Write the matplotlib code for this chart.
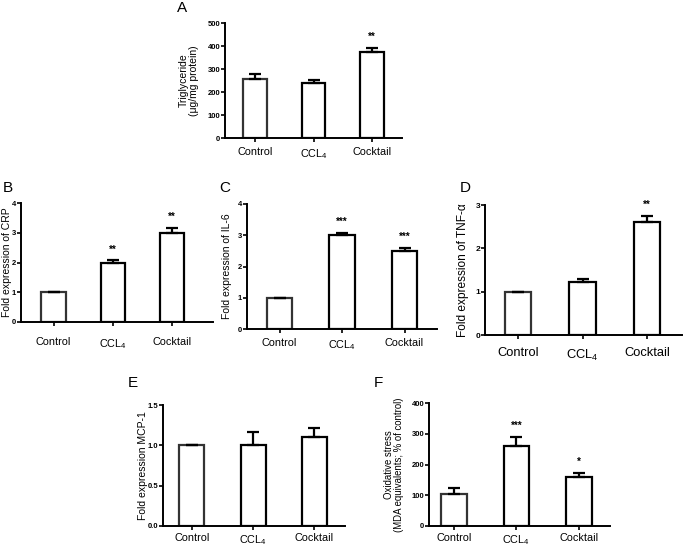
import matplotlib
matplotlib.use('Agg')
import matplotlib.pyplot as plt

plt.rcParams['font.family'] = ['Liberation Sans', 'DejaVu Sans']
plt.rcParams['mathtext.fontset'] = 'custom'
plt.rcParams['mathtext.rm'] = 'Liberation Sans'
plt.rcParams['mathtext.default'] = 'regular'

W, H = 685, 549

groups = ['Control', 'CCL$_4$', 'Cocktail']

# A - triglyceride
tg_mean = [258, 240, 375]
tg_err = [20, 12, 17]
tg_stars = ['', '', '**']
# B - CRP
crp_mean = [1.0, 2.0, 3.0]
crp_err = [0, 0.07, 0.17]
crp_stars = ['', '**', '**']
# C - IL-6
il6_mean = [1.0, 3.0, 2.5]
il6_err = [0, 0.07, 0.1]
il6_stars = ['', '***', '***']
# D - TNF-a
tnf_mean = [1.0, 1.22, 2.6]
tnf_err = [0, 0.07, 0.14]
tnf_stars = ['', '', '**']
# E - MCP-1
mcp_mean = [1.0, 1.0, 1.1]
mcp_err = [0, 0.16, 0.12]
mcp_stars = ['', '', '']
# F - oxidative stress
mda_mean = [103, 261, 158]
mda_err = [20, 29, 13]
mda_stars = ['', '***', '*']

fig = plt.figure(figsize=(W / 100, H / 100), dpi=100)


def px(x, y):
    return x / W, 1 - y / H


def panel(box, means, errs, stars, ymax, yticks, yfmt, ylabel, ylab_x, letter,
          letter_xy, xfs=7.8, yfs=5.5, lfs=7.5, xpad=3.6, xlim=(-0.52, 2.52)):
    # box = left, right, top, bottom in pixels
    l, r, t, b = box
    ax = fig.add_axes([l / W, 1 - b / H, (r - l) / W, (b - t) / H])
    x = range(len(means))
    ax.bar(x, means, width=0.41, color='white',
           edgecolor=['#333333', 'black', 'black'], linewidth=1.6, zorder=2)
    ax.errorbar(x, means, yerr=[[0] * len(errs), errs], fmt='none',
                ecolor='black', elinewidth=1.6, capsize=4.5, capthick=1.6, zorder=3)
    for i, s in enumerate(stars):
        if s:
            ax.text(i, means[i] + errs[i] + 0.05 * ymax, s, ha='center',
                    va='bottom', fontsize=7, fontweight='bold')
    ax.set_xlim(*xlim)
    ax.set_ylim(0, ymax)
    ax.set_xticks(list(x))
    ax.set_xticklabels(groups, fontsize=xfs)
    ax.set_yticks(yticks)
    ax.set_yticklabels([yfmt.format(v) for v in yticks], fontsize=yfs,
                       fontweight='bold')
    for sp in ['top', 'right']:
        ax.spines[sp].set_visible(False)
    for sp in ['left', 'bottom']:
        ax.spines[sp].set_linewidth(1.4)
    ax.tick_params(axis='y', length=3, width=1.2, pad=0.5)
    ax.tick_params(axis='x', length=3, width=1.2, pad=xpad)
    # y label placed by pixel centre
    fig.text(*px(ylab_x, (t + b) / 2), ylabel, fontsize=lfs, rotation=90,
             ha='center', va='center', multialignment='center', linespacing=1.1)
    fig.text(*px(*letter_xy), letter, fontsize=11, ha='center', va='center')
    return ax


panel((225, 402, 23, 138), tg_mean, tg_err, tg_stars, 500,
      [0, 100, 200, 300, 400, 500], '{:d}',
      'Triglyceride\n(\u03bcg/mg protein)', 189, 'A', (182, 8))

panel((21, 213, 203, 322), crp_mean, crp_err, crp_stars, 4,
      [0, 1, 2, 3, 4], '{:d}', 'Fold expression of CRP', 7, 'B', (8, 188),
      xpad=8, xlim=(-0.55, 2.69))

panel((247, 437, 204, 329), il6_mean, il6_err, il6_stars, 4,
      [0, 1, 2, 3, 4], '{:d}', 'Fold expression of IL-6', 227, 'C', (225, 188))

panel((485, 682, 205, 335), tnf_mean, tnf_err, tnf_stars, 3,
      [0, 1, 2, 3], '{:d}', 'Fold expression of TNF-\u03b1', 463, 'D', (465, 188),
      xfs=9.3, yfs=6, lfs=8.6, xpad=6, xlim=(-0.51, 2.54))

panel((163, 345, 405, 526), mcp_mean, mcp_err, mcp_stars, 1.5,
      [0.0, 0.5, 1.0, 1.5], '{:.1f}', 'Fold expression MCP-1', 143, 'E', (133, 383),
      xpad=2.2, xlim=(-0.47, 2.5))

panel((429, 610, 403, 526), mda_mean, mda_err, mda_stars, 400,
      [0, 100, 200, 300, 400], '{:d}',
      'Oxidative stress\n(MDA equivalents; % of control)', 394, 'F', (378, 383),
      lfs=6.9, xpad=2.2, xlim=(-0.4, 2.5))

fig.savefig('out.png', dpi=100)
